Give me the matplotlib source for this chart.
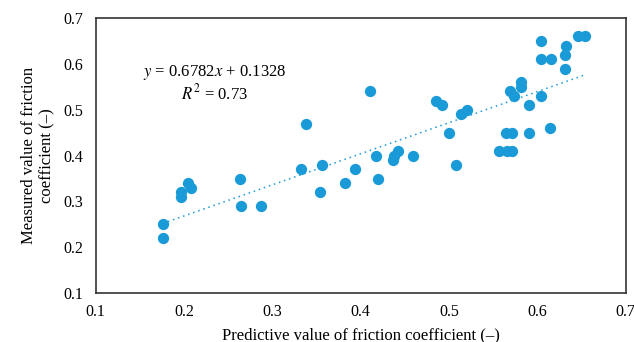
import numpy as np
import matplotlib.pyplot as plt

# predicted vs measured friction coefficient
predicted = [0.176, 0.176, 0.196, 0.197, 0.204, 0.208, 0.263, 0.264, 0.287,
             0.332, 0.338, 0.356, 0.354, 0.382, 0.394, 0.410, 0.417, 0.420,
             0.437, 0.438, 0.442, 0.459, 0.485, 0.492, 0.500, 0.508, 0.514,
             0.520, 0.556, 0.564, 0.571, 0.566, 0.571, 0.569, 0.573, 0.581,
             0.581, 0.590, 0.590, 0.604, 0.604, 0.604, 0.615, 0.614, 0.631,
             0.632, 0.631, 0.646, 0.654]
measured = [0.25, 0.22, 0.31, 0.32, 0.34, 0.33, 0.35, 0.29, 0.29,
            0.37, 0.47, 0.38, 0.32, 0.34, 0.37, 0.54, 0.40, 0.35,
            0.39, 0.40, 0.41, 0.40, 0.52, 0.51, 0.45, 0.38, 0.49,
            0.50, 0.41, 0.45, 0.45, 0.41, 0.41, 0.54, 0.53, 0.56,
            0.55, 0.51, 0.45, 0.65, 0.61, 0.53, 0.61, 0.46, 0.62,
            0.64, 0.59, 0.66, 0.66]
slope = 0.6782
intercept = 0.1328

plt.rcParams['font.family'] = ['Liberation Serif', 'DejaVu Serif']
plt.rcParams['mathtext.fontset'] = 'stix'
blue = '#1a9bd7'

fig = plt.figure(figsize=(6.34, 3.42), dpi=100)
ax = fig.add_axes([0.151, 0.143, 0.836, 0.804])

ax.scatter(predicted, measured, s=66, color=blue, zorder=3, linewidths=0)

x_fit = np.array([min(predicted), max(predicted)])
ax.plot(x_fit, slope * x_fit + intercept, linestyle=(0, (1, 2.5)), color=blue, linewidth=1.1)

ax.text(0.235, 0.582, r'$y$ = 0.6782$x$ + 0.1328', ha='center', va='center', fontsize=12)
ax.text(0.235, 0.536, r'$R^2$ = 0.73', ha='center', va='center', fontsize=12)

ax.set_xlim(0.1, 0.7)
ax.set_ylim(0.1, 0.7)
ax.set_xticks(np.arange(0.1, 0.71, 0.1))
ax.set_yticks(np.arange(0.1, 0.71, 0.1))
ax.set_xticklabels(['0.1', '0.2', '0.3', '0.4', '0.5', '0.6', '0.7'])
ax.set_yticklabels(['0.1', '0.2', '0.3', '0.4', '0.5', '0.6', '0.7'])
ax.tick_params(axis='x', length=0, labelsize=11.5, pad=8)
ax.tick_params(axis='y', length=0, labelsize=11.5, pad=9)
for s in ax.spines.values():
    s.set_linewidth(1.2)
    s.set_color('#333333')

ax.set_xlabel('Predictive value of friction coefficient (\u2013)', fontsize=12, labelpad=5)
ax.set_ylabel('Measured value of friction\ncoefficient (\u2013)', fontsize=12, labelpad=6)

fig.savefig('out.png', dpi=100)
